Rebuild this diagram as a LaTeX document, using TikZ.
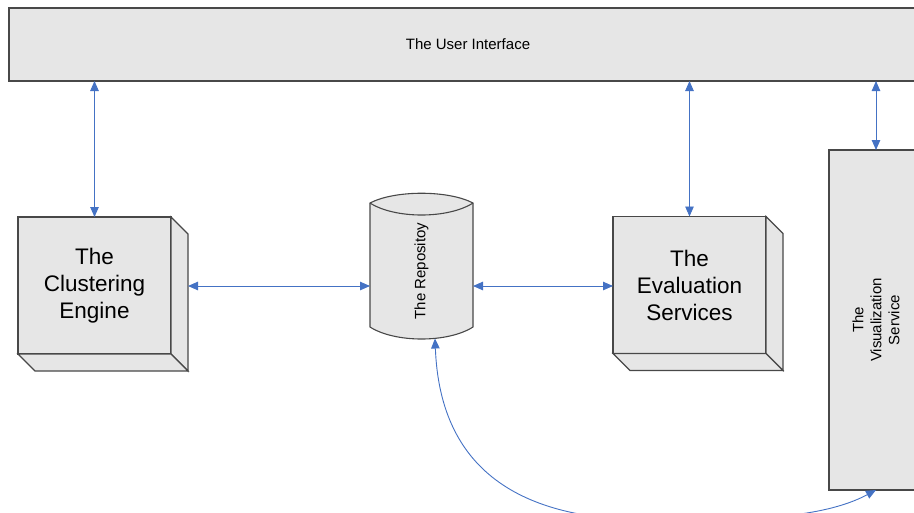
\documentclass[tikz,border=0pt]{standalone}
\usepackage{fontspec}
\setmainfont{Liberation Sans}
\usetikzlibrary{arrows.meta,calc}
\definecolor{boxfill}{RGB}{230,230,230}
\definecolor{edgegray}{RGB}{72,72,72}
\definecolor{linkblue}{RGB}{68,114,196}
\begin{document}
\begin{tikzpicture}[x=1pt,y=-1pt,
  face/.style={fill=boxfill,draw=edgegray,line width=1.1pt,line join=miter},
  frontbox/.style={face,minimum width=153pt,minimum height=137pt,inner sep=0pt,outer sep=0pt,
    align=center,font=\fontsize{22.5}{27}\selectfont},
  conn/.style={draw=linkblue,line width=0.9pt,
    {Triangle[length=10pt,width=8.5pt]}-{Triangle[length=10pt,width=8.5pt]}},
  smalltext/.style={font=\fontsize{15}{18}\selectfont,align=center,inner sep=0pt}]
\useasboundingbox (0,0) rectangle (914,512);
\clip (0,0) rectangle (914,512);

% top bar
\node[face,smalltext,minimum width=918pt,minimum height=73pt,outer sep=0pt] (ui) at (468,44.5) {The User Interface};

% clustering engine block
\node[frontbox] (ce) at (94.5,285.5) {The\\Clustering\\Engine};
\draw[face] (ce.north east) -- ++(17,17) -- ($(ce.south east)+(17,17)$) -- (ce.south east) -- cycle;
\draw[face] (ce.south west) -- (ce.south east) -- ++(17,17) -- ($(ce.south west)+(17,17)$) -- cycle;

% evaluation services block
\node[frontbox] (ev) at (689.5,285) {The\\Evaluation\\Services};
\draw[face] (ev.north east) -- ++(17,17) -- ($(ev.south east)+(17,17)$) -- (ev.south east) -- cycle;
\draw[face] (ev.south west) -- (ev.south east) -- ++(17,17) -- ($(ev.south west)+(17,17)$) -- cycle;

% repository cylinder
\node[minimum width=103pt,minimum height=124pt,inner sep=0pt,outer sep=0pt] (repo) at (421.5,265) {};
\draw[face] (repo.north west) .. controls +(25,-13) and +(-25,-13) .. (repo.north east)
  -- (repo.south east) .. controls +(-25,16) and +(25,16) .. (repo.south west) -- cycle;
\draw[face,fill=none] (repo.north west) .. controls +(25,16) and +(-25,16) .. (repo.north east);
\node[smalltext,rotate=90] (repotext) at (421.5,271) {The Repositoy};
\coordinate (rb) at (435,338.5);
\coordinate (low) at (650,520);

% visualization service
\node[face,minimum width=94pt,minimum height=340pt,outer sep=0pt] (vis) at (876,320) {};
\node[smalltext,rotate=90] (vistext) at (vis.center) {The\\Visualization\\Service};

% connectors
\draw[conn] (ce.north |- ui.south) -- (ce.north);
\draw[conn] (ev.north |- ui.south) -- (ev.north);
\draw[conn] (vis.north |- ui.south) -- (vis.north);
\draw[conn] ($(ce.east)+(17,0.5)$) -- ($(ce.east -| repo.west)+(0,0.5)$);
\draw[conn] ($(ev.west -| repo.east)+(0,1)$) -- ($(ev.west)+(0,1)$);
\draw[conn] (rb) .. controls (440,470) and (520,520) .. (low)
  .. controls (740,520) and (820,520) .. (vis.south);
\end{tikzpicture}
\end{document}
